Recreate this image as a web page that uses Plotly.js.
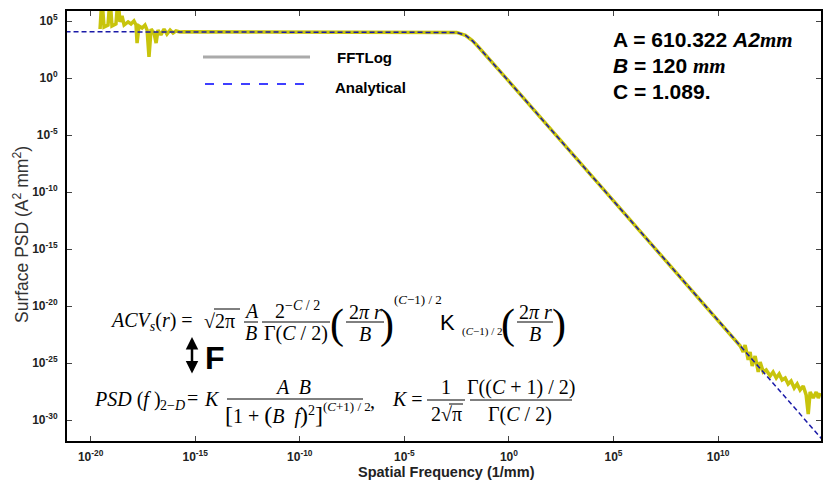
<!DOCTYPE html>
<html><head><meta charset="utf-8">
<script src="https://cdn.plot.ly/plotly-3.0.1.min.js"></script>
<style>html,body{margin:0;padding:0;background:#fff}#chart{width:830px;height:483px}</style>
</head><body><div id="chart"></div>
<script>
// ---- data (log10 of values) ----
const fftFreqExp = [-19.55,-19.46,-19.36,-19.17,-19.07,-18.98,-18.79,-18.69,-18.60,-18.50,-18.40,-18.21,-18.07,-17.93,-17.83,-17.78,-17.69,-17.54,-17.40,-17.30,-17.21,-17.11,-16.97,-16.87,-16.78,-16.64,-16.49,-16.35,-16.20,-16.06,-15.92,-15.73,-15.49,
  -10,-4,-3,-2.5,-2.08,-1.75,-1.5,-1,0,5,10,
  10.82,11.06,11.20,11.29,11.44,11.53,11.63,11.77,11.92,12.01,12.16,12.30,12.49,12.63,12.78,12.92,13.06,13.21,13.35,13.49,13.64,13.78,13.92,14.07,14.21,14.31,14.40,14.55,14.69,14.79,14.88];
const fftPsdExp = [4.30,7,4.48,4.65,7,4.56,4.74,7,4.92,5.44,4.65,4.92,4.74,5.00,4.65,3.07,4.56,4.39,4.65,4.21,1.85,4.30,3.95,3.07,4.21,3.78,4.30,3.86,4.21,3.95,4.13,4.04,4.06,
  4.06,4.06,4.05,4.00,3.75,3.28,2.81,1.79,-0.30,-10.78,-21.26,
  -22.98,-23.51,-24.03,-23.42,-24.73,-24.03,-25.26,-24.38,-25.79,-24.91,-25.79,-25.61,-26.14,-25.79,-26.31,-25.96,-26.49,-26.31,-26.84,-26.58,-27.19,-26.84,-27.37,-27.01,-27.80,-29.47,-27.54,-28.07,-27.54,-28.07,-27.63];
const anaFreqExp = [-21.2,-10,-4,-3,-2.5,-2.08,-1.75,-1.5,-1,0,5,10,14.95];
const anaPsdExp  = [4.06,4.06,4.06,4.05,4.00,3.75,3.28,2.81,1.79,-0.30,-10.78,-21.26,-31.64];
const xTickExp = [-20,-15,-10,-5,0,5,10,15];
const xTickLabels = ['10<sup>-20</sup>','10<sup>-15</sup>','10<sup>-10</sup>','10<sup>-5</sup>','10<sup>0</sup>','10<sup>5</sup>','10<sup>10</sup>','10<sup>15</sup>'];
const yTickExp = [5,0,-5,-10,-15,-20,-25,-30];
const yTickLabels = ['10<sup>5</sup>','10<sup>0</sup>','10<sup>-5</sup>','10<sup>-10</sup>','10<sup>-15</sup>','10<sup>-20</sup>','10<sup>-25</sup>','10<sup>-30</sup>'];
const legendNames = ['FFTLog','Analytical'];
const paramLines = ['<b>A = 610.322 <i>A2</i><span style="font-family:Liberation Serif"><i>mm</i></span></b>',
                    '<b><i>B</i> = 120 <span style="font-family:Liberation Serif"><i>mm</i></span></b>',
                    '<b>C = 1.089.</b>'];

const p10 = v => Math.pow(10, v);

// ---- geometry helpers (pixel -> paper) ----
const L = 67, R = 821, T = 11, B = 441;
const px = x => (x - L) / (R - L);
const py = y => (B - y) / (B - T);
const SERIF = 'Liberation Serif, Times New Roman, serif';
const SANS = 'Liberation Sans, Arial, sans-serif';
const anns = [];
function ann(x, y, text, o) {
  o = o || {};
  anns.push({xref:'paper', yref:'paper', x:px(x), y:py(y), text:text, showarrow:false,
    xanchor:o.xa || 'center', yanchor:'middle',
    font:{family:o.fam || SERIF, size:o.size || 20, color:o.color || '#000', weight:o.weight || 'normal'}});
}
const shapes = [];
function hline(x0, x1, y, o) {
  o = o || {};
  shapes.push({type:'line', xref:'paper', yref:'paper', x0:px(x0), x1:px(x1), y0:py(y), y1:py(y),
    line:{color:o.color || '#000', width:o.width || 1, dash:o.dash || 'solid'}});
}

// legend (drawn)
hline(203, 310, 57, {color:'#aaaaaa', width:3});
hline(205, 312, 84, {color:'#0000ff', width:1.5, dash:'dash'});
ann(335, 58, '<b>' + legendNames[0] + '</b>', {xa:'left', fam:SANS, size:15});
ann(333, 88, '<b>' + legendNames[1] + '</b>', {xa:'left', fam:SANS, size:15});

// parameters
ann(611, 40, paramLines[0], {xa:'left', fam:SANS, size:21});
ann(611, 66, paramLines[1], {xa:'left', fam:SANS, size:21});
ann(611, 91, paramLines[2], {xa:'left', fam:SANS, size:21});

// axis titles
ann(446, 472, '<b>Spatial Frequency (1/mm)</b>', {fam:SANS, size:14.5, color:'#222'});
anns.push({xref:'paper', yref:'paper', x:px(21), y:py(235), text:'Surface PSD (A<sup>2</sup> mm<sup>2</sup>)', showarrow:false,
  textangle:-90, xanchor:'center', yanchor:'middle', font:{family:SANS, size:17.5, color:'#333'}});

// equation 1
const e1 = 321;
ann(108, e1, '<i>ACV</i><sub><i>s</i></sub>(<i>r</i>) = ', {xa:'left'});
ann(202, e1, '√2π', {xa:'left'});
hline(214, 240, e1 - 12);
ann(251, e1 - 10, '<i>A</i>'); ann(251, e1 + 12, '<i>B</i>'); hline(244, 258, e1 + 1);
ann(297, e1 - 11, '2<sup>−<i>C</i> / 2</sup>'); ann(296, e1 + 12, 'Γ(<i>C</i> / 2)'); hline(262, 330, e1 + 1);
ann(337, e1 + 3, '(', {size:42}); ann(387, e1 + 3, ')', {size:42});
ann(365, e1 - 9, '2<i>π r</i>'); ann(365, e1 + 13, '<i>B</i>'); hline(346, 384, e1 + 1);
ann(392, e1 - 22, '(<i>C</i>−1) / 2', {xa:'left', size:13});
ann(438, e1 + 1, 'K', {xa:'left', fam:SANS, size:22});
ann(460, e1 + 10, '(<i>C</i>−1) / 2', {xa:'left', size:11});
ann(508, e1 + 3, '(', {size:42}); ann(559, e1 + 3, ')', {size:42});
ann(535, e1 - 9, '2<i>π r</i>'); ann(535, e1 + 13, '<i>B</i>'); hline(517, 553, e1 + 1);

// F arrow
anns.push({xref:'paper', yref:'paper', x:px(192), y:py(337), ax:0, ay:38, axref:'pixel', ayref:'pixel', text:'',
  showarrow:true, arrowhead:2, arrowsize:1, arrowwidth:2.5, arrowcolor:'#000', arrowside:'end+start'});
ann(203, 358, '<b>F</b>', {xa:'left', fam:SANS, size:32});

// equation 2
ann(92, 399, '<i>PSD</i> (<i>f</i> )', {xa:'left'});
ann(158, 405, '2−<i>D</i>', {xa:'left', size:14});
ann(192, 398, '=');
ann(212, 399, '<i>K</i>');
ann(293, 387, '<i>A  B</i>');
hline(227, 363, 399);
ann(274, 415, '<span style="font-size:24px">[</span>1 + <span style="font-size:24px">(</span><i>B  f</i><span style="font-size:24px">)</span><sup>2</sup><span style="font-size:24px">]</span>');
ann(321, 406, '(<i>C</i>+1) / 2', {xa:'left', size:13});
ann(372, 401, ',');
ann(390, 399, '<i>K</i> =', {xa:'left'});
ann(446, 387, '1'); hline(427, 465, 400); ann(446, 414, '2√π'); hline(449, 463, 404);
ann(521, 387, 'Γ((<i>C</i> + 1) / 2)'); hline(470, 572, 400); ann(520, 414, 'Γ(<i>C</i> / 2)');

const traces = [
  {x: fftFreqExp.map(p10), y: fftPsdExp.map(p10), type:'scatter', mode:'lines', name:'FFTLog data',
   line:{color:'#c8c40c', width:3.5}, showlegend:false, hoverinfo:'skip'},
  {x: anaFreqExp.map(p10), y: anaPsdExp.map(p10), type:'scatter', mode:'lines', name:legendNames[1],
   line:{color:'#1a1aa8', width:1.5, dash:'5px,3px'}, showlegend:false}
];

const axisCommon = {type:'log', showgrid:false, zeroline:false, showline:true, linecolor:'#000', linewidth:2,
  mirror:'ticks', ticks:'inside', ticklen:5, tickcolor:'#444', tickwidth:1,
  tickfont:{family:SANS, size:12, color:'#222', weight:'bold'}};

const layout = {
  width:830, height:483, margin:{l:L, r:830-R, t:T, b:483-B},
  paper_bgcolor:'#fff', plot_bgcolor:'#fff', showlegend:false,
  xaxis: Object.assign({}, axisCommon, {range:[-21.13, 14.92], tickvals:xTickExp.map(p10), ticktext:xTickLabels, ticklabelstandoff:4}),
  yaxis: Object.assign({}, axisCommon, {range:[-31.84, 5.88], tickvals:yTickExp.map(p10), ticktext:yTickLabels, ticklabelstandoff:5}),
  annotations: anns, shapes: shapes
};
Plotly.newPlot('chart', traces, layout, {staticPlot:true, displayModeBar:false});
</script></body></html>
